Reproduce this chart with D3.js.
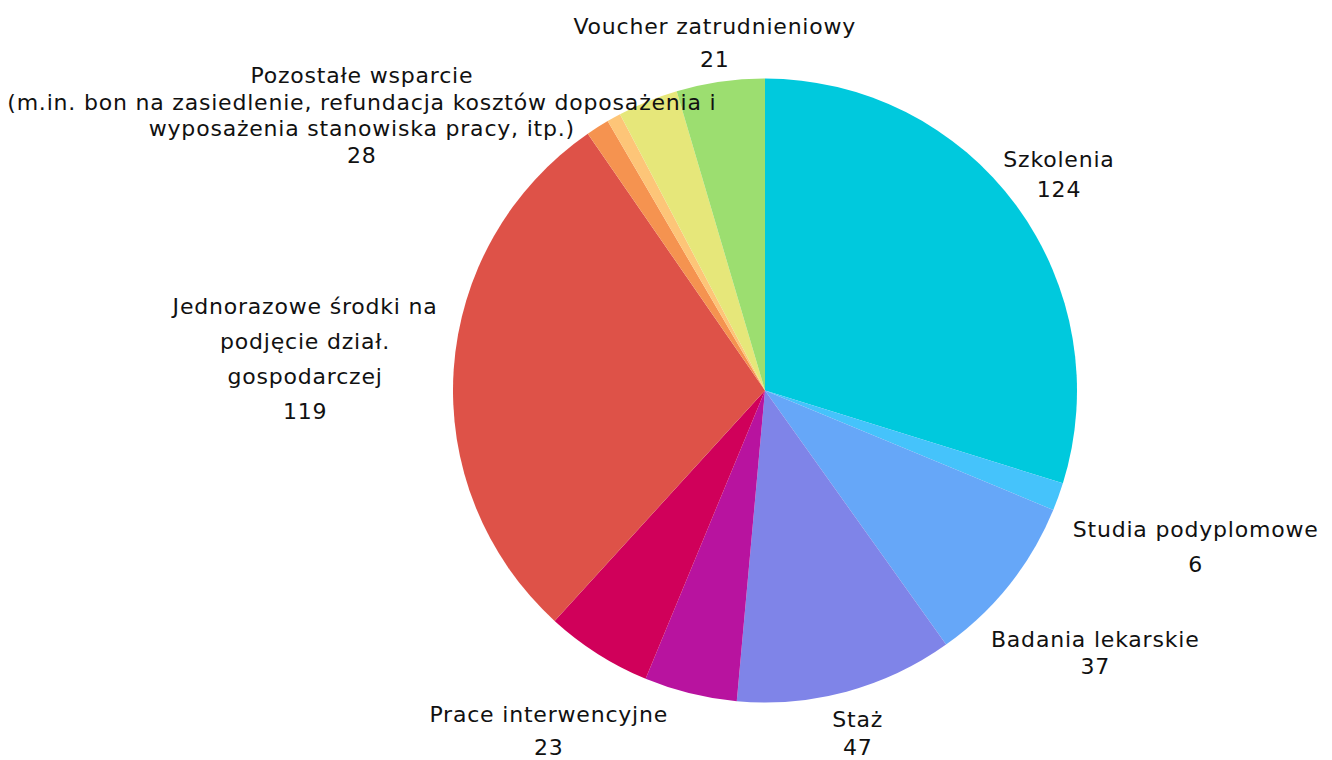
<!DOCTYPE html>
<html><head><meta charset="utf-8">
<script src="https://cdn.jsdelivr.net/npm/d3@7"></script>
<style>html,body{margin:0;padding:0;background:#fff;}svg{display:block;}</style>
</head><body>
<svg id="chart" width="1332" height="760"></svg>
<script>
// Data
const categories = ["Szkolenia","Studia podyplomowe","Badania lekarskie","Staż","Inne","Prace interwencyjne","Jednorazowe środki na podjęcie dział. gospodarczej","Inne 2","Inne 3","Pozostałe wsparcie","Voucher zatrudnieniowy"];
const values = [124, 6, 37, 47, 20, 23, 119, 5, 3, 13, 19];
const labelLines = [
  ["Szkolenia"],
  ["Studia podyplomowe"],
  ["Badania lekarskie"],
  ["Staż"],
  null,
  ["Prace interwencyjne"],
  ["Jednorazowe środki na","podjęcie dział.","gospodarczej"],
  null,
  null,
  ["Pozostałe wsparcie","(m.in. bon na zasiedlenie, refundacja kosztów doposażenia i","wyposażenia stanowiska pracy, itp.)"],
  ["Voucher zatrudnieniowy"]
];
const labelValues = [124, 6, 37, 47, null, 23, 119, null, null, 28, 21];
const colors = ["#00C9DD","#45C3FB","#66A7F8","#7F84E8","#B8139F","#D0005A","#DE5248","#F59350","#FDC578","#E6E77A","#9CDE70"];

// Layout (label placement: distance from centre, line height, optional angle override in degrees)
const labelLayout = [
  {d:365, lh:30}, {d:458, lh:35}, {d:422, lh:27}, {d:355, lh:28}, null,
  {d:403, lh:33}, {d:461, lh:35}, null, null, {d:488, lh:26.5, a:304.3}, {d:351, lh:33}
];

const svg = d3.select("#chart");
const cx = 765, cy = 390.5, R = 312;
const g = svg.append("g").attr("transform", `translate(${cx},${cy})`);

const data = categories.map((c,i)=>({cat:c, value:values[i], i}));
const pie = d3.pie().value(d=>d.value).sort(null);
const arcs = pie(data);
const arc = d3.arc().innerRadius(0).outerRadius(R);
const color = d3.scaleOrdinal().domain(categories).range(colors);

g.selectAll("path.slice").data(arcs).join("path")
  .attr("class","slice")
  .attr("d", arc)
  .attr("fill", d=>color(d.data.cat));

const labels = g.selectAll("text.lbl").data(arcs.filter(d=>labelLines[d.data.i])).join("text")
  .attr("class","lbl")
  .attr("text-anchor","middle")
  .attr("font-family","'DejaVu Sans', sans-serif")
  .attr("font-size", 22)
  .attr("letter-spacing", 0.8)
  .attr("fill","#111");

labels.each(function(d){
  const i = d.data.i, L = labelLayout[i];
  const lines = labelLines[i].concat([String(labelValues[i])]);
  const ang = L.a !== undefined ? L.a*Math.PI/180 : (d.startAngle+d.endAngle)/2;
  const x = Math.sin(ang)*L.d, y = -Math.cos(ang)*L.d;
  const n = lines.length;
  const t = d3.select(this);
  lines.forEach((s,k)=>{
    t.append("tspan").attr("x", x).attr("y", y + (k-(n-1)/2)*L.lh).attr("dy","0.35em").text(s);
  });
});
</script>
</body></html>
